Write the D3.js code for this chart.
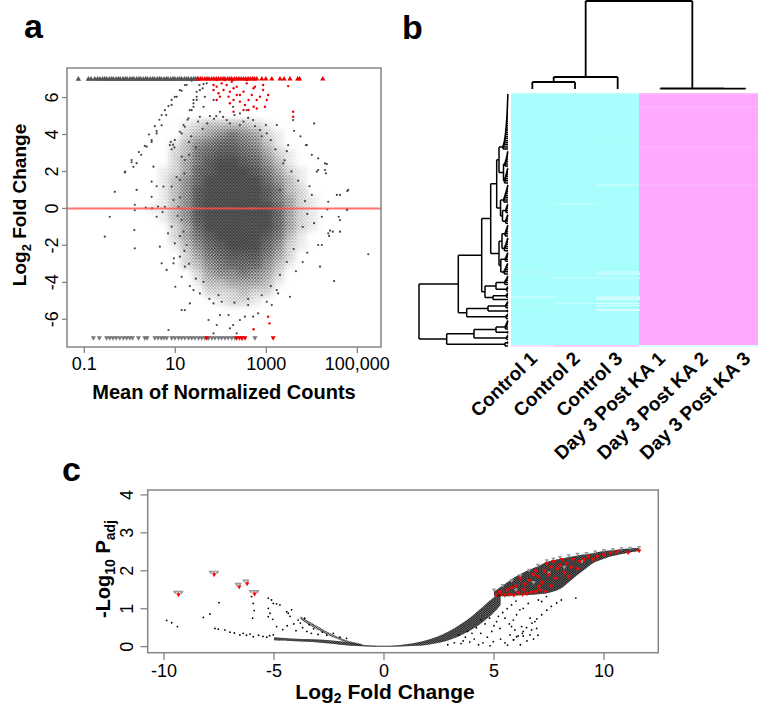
<!DOCTYPE html>
<html><head><meta charset="utf-8">
<script src="https://cdn.jsdelivr.net/npm/d3@7"></script>
<style>
html,body{margin:0;padding:0;background:#fff;}
svg{display:block;font-family:"Liberation Sans",Arial,Helvetica,sans-serif;}
</style></head><body>
<svg id="fig" width="758" height="706"></svg>
<script>
// ================= DATA =================
// ---- Panel a : MA plot ----
const maTickValuesX = [0.1, 10, 1000, 100000];
const maTickLabelsX = ["0.1", "10", "1000", "100,000"];
const maTickValuesY = [-6, -4, -2, 0, 2, 4, 6];
// density of the dense core (log10 mean on columns, log2FC on rows), 0..9
const maDensityLog = [0.5,0.75,1.0,1.25,1.5,1.75,2.0,2.25,2.5,2.75,3.0,3.25,3.5,3.75,4.0,4.25,4.5];
const maDensityFC  = [4.5,4.0,3.5,3.0,2.5,2.0,1.5,1.0,0.5,0.0,-0.5,-1.0,-1.5,-2.0,-2.5,-3.0,-3.5,-4.0,-4.5,-5.0];
const maDensity = [
 "00012333321000000",
 "00023456542100000",
 "00135677653100000",
 "00236788764210000",
 "00246899875310000",
 "01247899986421000",
 "01357999997531000",
 "01358999998632000",
 "01358999998642100",
 "11358999999742100",
 "01358999999742100",
 "00247999999742100",
 "00246899998631000",
 "00135789997521000",
 "00024678886420000",
 "00023567775310000",
 "00002455654200000",
 "00001334443100000",
 "00000222322000000",
 "00000012210000000"];
// sparse grey genes [log10 mean, log2FC]
const maGrey = [
 [-0.33,0.9],[-0.55,-1.53],[-0.44,-0.45],[-0.11,1.95],[0.04,2.5],[0.08,2.25],[0.15,2.45],[0.15,1.0],[0.11,0.2],[0.11,-0.1],[0.1,-1.17],[0.11,-2.16],
 [0.37,3.34],[0.48,3.6],[0.59,4.06],[0.48,1.45],[0.48,0.63],[0.49,0.0],[0.59,1.2],[0.62,0.1],[0.66,-2.07],[0.70,-2.97],[0.81,-3.33],[0.84,-1.35],
 [0.96,-2.97],[1.0,-4.24],[1.14,-5.5],[0.97,-2.7],[1.14,-3.7],[1.32,-5.14],[0.85,-6.58],[0.52,2.26],[0.74,1.18],[0.77,0.09],[0.59,-0.45],[0.35,0.05],
 [0.72,-0.2],[0.92,1.18],[1.10,1.54],[1.21,2.62],[1.14,2.8],[1.03,1.7],[0.96,0.45],[1.07,0.09],[1.14,-0.63],[0.92,-0.99],[1.18,-1.26],[0.99,-1.89],
 [-0.10,1.99],[0.04,2.62],[0.33,3.38],[0.48,3.7],[0.59,4.19],[0.70,4.5],[0.80,5.05],[0.92,5.6],[1.03,6.04],[1.14,6.37],[1.25,6.68],[1.36,6.91],
 [0.88,3.43],[0.99,3.7],[1.10,4.15],[1.18,4.51],[1.29,4.88],[1.36,5.32],[1.40,5.69],[1.47,6.04],[1.54,6.4],[1.62,6.73],
 [1.14,4.06],[1.21,4.42],[1.27,4.8],[1.32,5.32],[1.40,5.87],[1.47,6.31],[1.53,6.68],
 [0.70,5.05],[0.77,5.32],[0.85,5.54],[0.92,5.87],[0.99,6.04],[1.10,6.4],[1.21,6.68],[1.32,6.95],
 [0.92,3.2],[0.95,3.45],[0.9,3.6],[0.98,3.3],[0.25,2.9],[0.2,3.05],[0.42,4.0],[0.55,4.45],[0.65,4.8],
 [4.05,4.6],[3.61,4.2],[3.89,3.43],[3.48,3.43],[4.14,2.71],[4.33,2.40],[4.29,2.08],[4.14,2.08],[4.55,0.73],[4.62,0.73],[4.78,0.94],[4.36,0.36],
 [4.34,-0.05],[4.78,-0.05],[4.22,-0.45],[4.59,-0.45],[4.46,-1.26],[4.38,-1.49],[4.14,-1.98],[4.22,-1.98],[5.24,-2.48],[4.49,-3.93],[4.18,-3.15],
 [3.52,-4.78],[3.26,-4.6],[4.80,1.0],[4.77,-0.09],[4.62,-0.63],[4.62,-1.26],[4.40,-1.2],[4.36,-1.35],[3.87,3.43],[4.29,2.44],[4.31,1.9],[4.11,1.99],
 [4.0,0.73],[3.30,1.0],[3.59,4.78],[3.23,4.51],[3.37,2.44],[3.95,1.2],[4.05,-0.8],[3.9,-2.4],[3.8,-2.9],[3.65,-3.4],[4.0,2.9],[3.75,3.9],[3.45,3.1],
 [1.21,-5.5],[1.84,-5.14],[1.95,-4.69],[2.02,-5.05],[1.73,-6.04],[1.91,-6.31],[2.17,-5.77],[2.27,-6.31],[2.42,-6.04],[2.53,-5.86],[2.71,-5.86],
 [2.82,-5.68],[2.20,-6.49],[2.35,-6.76],[1.84,-6.76],[1.98,-5.77],[2.60,-5.23],[3.01,-5.05],[3.12,-5.23],[3.23,-4.42],[1.40,-4.42],[1.54,-4.6],
 [1.62,-3.97],[1.32,-4.2],[1.21,-3.15],[1.10,-2.61],[1.25,-1.98],
 [1.62,5.5],[1.84,5.87],[1.54,4.96],[1.76,5.0],[1.98,5.23],[2.27,5.5],[2.42,5.14],[2.57,5.32],[2.13,4.78],[2.42,4.51],[2.71,4.78],[2.86,4.24],
 [3.01,4.06],[2.99,4.51],[1.65,6.04],[1.69,6.77],[1.60,6.5],[1.47,5.87],[1.40,5.5],[1.9,5.0],[2.05,4.95],[2.6,4.9],[2.3,5.05],
 [1.5,4.7],[1.7,4.6],[1.85,4.85],[2.2,4.6],[2.5,4.7],[2.75,4.45],[1.6,4.3],[2.9,3.9],[3.1,3.7],[1.35,3.9],[1.3,3.6],[3.2,3.2],[3.4,2.6],[3.55,2.0],
 [3.7,1.5],[3.85,0.4],[3.9,-0.3],[3.8,-1.0],[3.6,-2.2],[3.45,-2.9],[3.3,-3.6],[3.1,-4.2],[2.9,-4.7],[2.6,-4.9],[2.3,-5.1],[1.75,-4.9],[1.45,-3.8],
 [1.3,-3.0],[1.2,-2.3],[1.1,-1.5],[1.05,-0.4],[1.1,0.6],[1.2,1.9],[1.3,2.9],[1.45,3.3]];
// significant genes (red) [log10 mean, log2FC]
const maRed = [
 [1.84,6.41],[1.91,6.59],[1.95,6.23],[2.02,6.77],[2.06,6.41],[2.13,6.68],[2.20,6.32],[2.24,6.86],[2.28,6.50],[2.35,6.59],[2.17,6.05],[2.28,5.87],
 [2.42,6.14],[2.50,6.32],[2.57,6.77],[2.68,6.14],[2.72,6.50],[2.79,5.87],[2.86,6.05],[2.93,6.41],[2.97,5.50],[3.01,5.87],[2.61,5.87],[2.53,5.60],
 [2.72,5.50],[2.79,5.41],[2.61,5.33],[2.50,5.33],[2.42,5.78],[2.35,6.14],[1.91,6.95],[2.09,6.95],[2.28,6.95],[2.57,6.95],[2.75,6.59],[2.93,6.68],
 [3.04,6.14],[3.48,6.62],[3.59,5.23],[3.59,4.96],[2.28,5.23],[2.20,5.69],[1.91,5.87],[1.84,6.68],[1.98,6.05],
 [3.04,-5.86],[3.07,-6.22],[2.72,-6.54]];
// genes beyond the y limits, drawn as triangles at +7 / -7 (log10 mean)
const maTopGrey = [-1.13,-0.91,-0.85,-0.77,-0.71,-0.66,-0.6,-0.55,-0.51,-0.45,-0.4,-0.36,-0.3,-0.25,-0.21,-0.15,-0.1,-0.06,0.0,0.05,0.09,0.15,0.2,
 0.24,0.3,0.35,0.39,0.45,0.5,0.54,0.6,0.65,0.69,0.75,0.8,0.84,0.9,0.95,0.99,1.05,1.1,1.14,1.2,1.25,1.29,1.35,1.4,1.44,1.48];
const maTopRed = [1.5,1.55,1.59,1.65,1.7,1.74,1.8,1.85,1.9,1.95,2.0,2.05,2.09,2.15,2.2,2.24,2.3,2.35,2.4,2.45,2.5,2.55,2.6,2.65,2.7,2.74,2.79,
 2.9,2.99,3.12,3.3,3.39,3.52,3.69,3.73,4.24];
const maBottomGrey = [-0.80,-0.67,-0.51,-0.44,-0.37,-0.30,-0.22,-0.14,-0.07,0.0,0.06,0.19,0.33,0.38,0.55,0.62,0.69,0.75,0.81,0.92,0.99,1.07,1.14,
 1.21,1.29,1.36,1.43,1.51,1.58,1.65,1.73,1.80,1.87,1.95,2.02,2.09,2.16,2.24,2.31,2.46,2.75];
const maBottomRed = [1.69,2.35,2.41,2.47,2.53,3.15];

// ---- Panel b : heatmap with dendrograms ----
const hmSamples = ["Control 1","Control 2","Control 3","Day 3 Post KA 1","Day 3 Post KA 2","Day 3 Post KA 3"];
const hmColumnBase = [-1,-1,-1,1,1,1];          // scaled expression (controls low, KA high)
// rows that deviate from the column base: [row, column, value]
const hmDeviations = [
 [0,0,-0.8],[0,1,-0.8],[0,2,-0.8],[0,3,0.8],[0,4,0.8],[0,5,0.8],
 [6,3,0.9],[6,4,0.9],[6,5,0.9],
 [22,0,-0.88],[22,1,-0.88],[22,2,-0.85],[22,3,0.9],[22,4,0.9],[22,5,0.9],
 [25,3,0.92],[25,4,0.92],[25,5,0.92],
 [43,2,-0.72],[43,3,0.9],[43,4,0.9],[43,5,0.9],
 [52,1,-0.78],[84,0,-0.85],[84,2,-0.75],[85,2,-0.7],[87,1,-0.75],[87,2,-0.8],
 [96,0,-0.75],[96,2,-0.65],[97,2,-0.5],[99,1,-0.7],[99,2,-0.45],[100,0,-0.8],[100,2,-0.4],[102,2,-0.5],
 [119,0,0.35],[119,1,0.6],[119,2,0.6],[119,3,-0.4],[119,4,-0.4],[119,5,-0.4]];
// column dendrogram: [height, left, right]; 0 = sample leaf
const hmColTree = [88, [12, [7, 0, 0], 0], [0.5, 0, [0.3, 0, 0]]];
// row dendrogram: [height, left, right]; 0 = gene leaf; {l:[...]} = chain of merge heights
const hmRowTree = [89,
  [49.7,
    [26.3,
      [17.3,
        [11.3,
          [9, {l:[0.15,0.2,0.3,0.35,0.45,0.5,0.6,0.7,0.8,0.9,1.0,1.1,1.25,1.4,1.55,1.7,1.9,2.1,2.3,2.5,2.8,3.1,3.4,3.8,4.3,5.0]},
              [4.5, {l:[0.3,0.6,0.9,1.3,1.8,2.4,3.0]}, {l:[0.4,0.8,1.2,1.7,2.2,2.8,3.5]}]],
          [7.5, {l:[0.3,0.7,1.1,1.6,2.2,2.9,3.5,4.2]}, [5.5, {l:[0.5,1.0,1.6,2.1]}, {l:[0.4,0.9,1.5,2.3]}]]],
        [9, [6, {l:[0.4,0.9,1.5,2.1,2.8]}, {l:[0.3,0.8,1.4,2.0,2.7,3.6]}], [7.2, {l:[0.5,1.1,1.8,2.6]}, {l:[0.6,1.3,2.0,2.9,3.8]}]]],
      [23, [12, {l:[0.5,1.2,2.0,3.1]}, {l:[0.6,1.4]}], [15, {l:[0.7,1.5]}, 0]]],
    [41.3, [20, {l:[0.5,1.2,2.2]}, {l:[0.6]}], {l:[0.8,1.9]}]],
  [61.3, [34, [12, {l:[0.5,1.1,1.8,2.6]}, {l:[0.4]}], {l:[0.6,1.5]}], [3, {l:[0.5]}, 0]]];

// ---- Panel c : volcano plot ----
const vTickValuesX = [-10,-5,0,5,10];
const vTickValuesY = [0,1,2,3,4];
// dense band of non-significant genes: log2FC, lower / upper -log10 Padj
const vBandX  = [-5,-4.5,-4,-3.5,-3,-2.5,-2,-1.5,-1,-0.5,0,0.5,1,1.5,2,2.5,3,3.5,4,4.5,5,5.3];
const vBandLo = [0.17,0.16,0.14,0.13,0.11,0.08,0.05,0.02,0.01,0,0,0,0.01,0.02,0.05,0.1,0.18,0.3,0.45,0.65,0.9,1.1];
const vBandHi = [0.25,0.23,0.21,0.2,0.19,0.17,0.14,0.1,0.05,0.03,0.02,0.03,0.06,0.11,0.18,0.28,0.42,0.6,0.8,1.05,1.3,1.42];
const vArmX  = [-3.8,-3.4,-3.0,-2.6,-2.2,-1.8,-1.4,-1.0];
const vArmLo = [0.72,0.57,0.44,0.32,0.22,0.13,0.07,0.03];
const vArmHi = [0.8,0.66,0.53,0.4,0.29,0.19,0.12,0.07];
const vCloudX  = [5.0,5.5,6.0,6.5,7.0,7.5,8.0,8.5,9.0,9.5,10.0,10.5,11.0,11.6];
const vCloudLo = [1.33,1.33,1.35,1.36,1.38,1.42,1.52,1.75,1.98,2.2,2.32,2.4,2.46,2.52];
const vCloudHi = [1.45,1.65,1.85,2.0,2.12,2.25,2.32,2.37,2.42,2.46,2.52,2.55,2.58,2.6];
// individual genes [log2FC, -log10 Padj]
const vBlack = [
 [-9.88,0.69],[-9.65,0.63],[-9.39,0.53],[-8.21,0.77],[-7.91,0.86],[-7.5,1.16],[-7.68,0.48],[-7.53,0.46],[-7.23,0.44],[-7.0,0.38],[-6.8,0.36],
 [-6.55,0.31],[-6.4,0.35],[-6.25,0.3],[-6.09,0.33],[-5.94,0.26],[-5.7,0.3],[-5.5,0.27],[-5.33,0.25],[-5.2,0.29],[-5.03,0.31],
 [-6.02,1.32],[-5.94,1.14],[-5.97,0.75],[-5.9,0.95],[-5.26,1.28],[-5.11,1.23],[-5.03,1.14],[-4.88,1.13],[-4.73,1.1],[-5.26,1.01],[-5.18,0.88],
 [-5.26,0.79],[-5.06,0.72],[-4.42,0.92],[-4.35,0.88],[-4.2,0.97],[-4.27,0.8],[-4.88,0.53],[-4.6,0.45],[-4.4,0.55],[-4.1,0.6],[-4.0,0.42],
 [-3.9,0.7],[-3.8,0.62],[-3.7,0.5],[-3.6,0.75],[-3.5,0.4],[-3.4,0.58],[-3.3,0.35],[-3.2,0.47],[-3.0,0.32],[-2.8,0.38],[-2.6,0.3],
 [5.62,0.04],[5.9,0.18],[6.1,0.28],[6.29,0.35],[6.48,0.5],[6.73,0.62],[6.95,0.73],[7.17,0.84],[7.4,0.96],[7.61,1.06],[7.85,1.15],[8.06,1.23],
 [8.72,1.28],[5.88,0.70],[5.8,0.53],[5.95,0.44],[5.73,0.31],[4.97,0.13],[4.82,0.02],[5.27,0.48],[5.12,0.66],[5.5,0.75],[6.18,0.97],[6.33,1.01],
 [6.56,1.14],[6.03,0.84],[6.26,0.53],[6.33,0.4],[6.64,0.31],[6.71,0.44],[6.94,0.48],[6.03,0.26],[5.88,0.18],[6.33,0.28],[6.64,0.75],[6.86,0.66],
 [7.02,1.23],[7.17,1.19],[7.39,1.32],[4.5,0.1],[4.7,0.25],[4.4,0.35],[4.9,0.4],[5.0,0.55],[5.3,0.2],[5.5,0.1],[4.3,0.05],[4.1,0.2],[3.9,0.12],
 [3.7,0.25],[3.5,0.08],[5.4,0.9],[5.6,1.0],[5.8,1.1],[6.0,1.2],[5.2,0.8],[5.7,0.6],[6.5,0.15],[6.8,0.2],[7.0,0.3],[6.2,0.05],
 [3.2,0.1],[3.4,0.3],[3.6,0.15],[4.0,0.35],[4.2,0.5],[4.6,0.6],[4.8,0.75],[3.8,0.4],[2.9,0.05],[4.4,0.7],[-2.3,0.35],[-2.0,0.25],[-1.7,0.22]];
const vRed = [[-9.34,1.37],[-7.72,1.9],[-6.58,1.58],[-6.22,1.66],[-5.88,1.39],
 [5.1,1.36],[5.3,1.4],[5.5,1.36],[5.7,1.38],[5.9,1.36],[6.1,1.42],[6.3,1.38],[6.5,1.4],[6.7,1.43],[6.9,1.45],[7.1,1.5],[5.6,1.5],[6.0,1.6],
 [6.4,1.65],[6.6,1.75],[6.8,1.9],[7.0,1.85],[7.2,1.7],[7.3,2.0],[7.5,1.9],[7.6,2.1],[7.8,1.8],[7.9,2.05],[8.0,2.15],[8.2,1.95],[8.3,2.2],
 [8.5,2.1],[8.6,2.3],[8.8,2.05],[8.9,2.25],[9.1,2.3],[9.3,2.38],[9.5,2.3],[9.7,2.38],[10.0,2.42],[10.3,2.47],[10.6,2.5],[11.1,2.48],[11.6,2.53],
 [6.2,1.8],[6.9,2.0],[7.4,2.2],[7.7,2.25],[8.1,2.3],[5.8,1.55],[6.35,1.5],[7.05,1.6],[7.6,1.6],[8.4,1.85],[5.25,1.45],[7.35,1.45]];
const vGreyTri = [[-9.5,1.44],[-9.35,1.44],[-9.2,1.44],[-7.88,1.97],[-7.73,1.97],[-7.58,1.97],[-6.7,1.65],[-6.55,1.65],[-6.35,1.74],[-6.2,1.74],
 [-6.05,1.46],[-5.9,1.46],[-5.75,1.46],[5.0,1.5],[5.4,1.62],[5.8,1.75],[6.2,1.88],[6.6,2.02],[7.0,2.15],[7.4,2.27],[7.7,2.32],[8.0,2.36],
 [8.4,2.4],[8.8,2.44],[9.2,2.46],[9.6,2.5],[10.0,2.54],[10.4,2.57],[10.8,2.59],[11.2,2.6],[11.6,2.62],[6.0,1.5],[6.8,1.7],[7.5,1.95],[8.2,2.1],[9.0,2.25]];

// ================= DRAWING =================
const svg = d3.select("#fig");
const defs = svg.append("defs");
defs.append("filter").attr("id","blurA").attr("x","-20%").attr("y","-20%").attr("width","140%").attr("height","140%")
  .append("feGaussianBlur").attr("stdDeviation",3);
defs.append("filter").attr("id","blurA2").attr("x","-20%").attr("y","-20%").attr("width","140%").attr("height","140%")
  .append("feGaussianBlur").attr("stdDeviation",2.4);
// speckle textures (rendering style only)
const spA = defs.append("pattern").attr("id","speckA").attr("patternUnits","userSpaceOnUse").attr("width",3.1).attr("height",3.3);
spA.append("circle").attr("cx",1).attr("cy",1).attr("r",1.05).attr("fill","#3a3a3a");
spA.append("circle").attr("cx",2.6).attr("cy",2.6).attr("r",0.85).attr("fill","#3a3a3a");
const spC = defs.append("pattern").attr("id","speckC").attr("patternUnits","userSpaceOnUse").attr("width",2.6).attr("height",2.3);
spC.append("circle").attr("cx",0.8).attr("cy",0.8).attr("r",0.75).attr("fill","#000");
spC.append("circle").attr("cx",2.1).attr("cy",1.9).attr("r",0.6).attr("fill","#000");
const BOX = "#858585";
const triUp = d3.symbol().type(d3.symbolTriangle);

function panelLabel(t, x, y){
  svg.append("text").attr("x",x).attr("y",y).attr("font-size",34).attr("font-weight","bold").text(t);
}
panelLabel("a", 24, 38); panelLabel("b", 402, 39); panelLabel("c", 62, 481);

// ---------- Panel a ----------
const ax = d3.scaleLog().domain([Math.pow(10,-1.38), Math.pow(10,5.52)]).range([67,381]);
const ay = d3.scaleLinear().domain([-7.5,7.6]).range([347,68]);
defs.append("clipPath").attr("id","clipA").append("rect").attr("x",67).attr("y",68).attr("width",314).attr("height",279);
// density cells -> blurred mask for the speckle texture, plus a blurred dark underlay
const maskA = defs.append("mask").attr("id","maskA").attr("maskUnits","userSpaceOnUse")
  .attr("x",0).attr("y",0).attr("width",758).attr("height",706);
const maskG = maskA.append("g").attr("filter","url(#blurA)");
const gA = svg.append("g").attr("clip-path","url(#clipA)");
const gDen = gA.append("g").attr("filter","url(#blurA2)");
maDensity.forEach((row, ri) => {
  const fc = maDensityFC[ri];
  row.split("").forEach((ch, ci) => {
    const d = +ch; if (!d) return;
    const lx = maDensityLog[ci];
    const x0 = ax(Math.pow(10, lx - 0.125)), x1 = ax(Math.pow(10, lx + 0.125));
    const y0 = ay(fc+0.25), y1 = ay(fc-0.25);
    maskG.append("rect").attr("x",x0).attr("width",x1-x0+0.3).attr("y",y0).attr("height",y1-y0+0.3)
      .attr("fill","#fff").attr("fill-opacity", Math.min(1, d/6.5));
    gDen.append("rect").attr("x",x0).attr("width",x1-x0+0.3).attr("y",y0).attr("height",y1-y0+0.3)
      .attr("fill","#404040").attr("fill-opacity", Math.pow(d/9,1.8)*0.8);
  });
});
gA.append("rect").attr("x",67).attr("y",68).attr("width",314).attr("height",279)
  .attr("fill","url(#speckA)").attr("mask","url(#maskA)");
gA.append("g").selectAll("circle").data(maGrey).join("circle")
  .attr("cx",d=>ax(Math.pow(10,d[0]))).attr("cy",d=>ay(d[1])).attr("r",1.1).attr("fill","#444");
gA.append("g").selectAll("path").data(maTopGrey).join("path")
  .attr("d",triUp.size(13)).attr("transform",d=>`translate(${ax(Math.pow(10,d))},${ay(7)})`).attr("fill","#555");
gA.append("g").selectAll("path").data(maBottomGrey).join("path")
  .attr("d",triUp.size(11)).attr("transform",d=>`translate(${ax(Math.pow(10,d))},${ay(-7)}) rotate(180)`).attr("fill","#777");
gA.append("g").selectAll("path").data(maTopRed).join("path")
  .attr("d",triUp.size(12)).attr("transform",d=>`translate(${ax(Math.pow(10,d))},${ay(7)})`).attr("fill","#e00");
gA.append("g").selectAll("path").data(maBottomRed).join("path")
  .attr("d",triUp.size(11)).attr("transform",d=>`translate(${ax(Math.pow(10,d))},${ay(-7)}) rotate(180)`).attr("fill","#e00");
gA.append("g").selectAll("circle").data(maRed).join("circle")
  .attr("cx",d=>ax(Math.pow(10,d[0]))).attr("cy",d=>ay(d[1])).attr("r",1.2).attr("fill","#e00");
gA.append("line").attr("x1",67).attr("x2",381).attr("y1",ay(0)).attr("y2",ay(0))
  .attr("stroke","#ff5050").attr("stroke-opacity",0.8).attr("stroke-width",2);
svg.append("rect").attr("x",67).attr("y",68).attr("width",314).attr("height",279)
  .attr("fill","none").attr("stroke",BOX).attr("stroke-width",1.5);
// axes a
maTickValuesX.forEach((v,i)=>{
  svg.append("line").attr("x1",ax(v)).attr("x2",ax(v)).attr("y1",347).attr("y2",353).attr("stroke",BOX).attr("stroke-width",1.3);
  svg.append("text").attr("x",ax(v)).attr("y",370).attr("text-anchor","middle").attr("font-size",18).text(maTickLabelsX[i]);
});
maTickValuesY.forEach(v=>{
  svg.append("line").attr("x1",62).attr("x2",67).attr("y1",ay(v)).attr("y2",ay(v)).attr("stroke",BOX).attr("stroke-width",1.3);
  svg.append("text").attr("transform",`translate(58,${ay(v)}) rotate(-90)`).attr("text-anchor","middle").attr("font-size",18).text(v);
});
svg.append("text").attr("x",224).attr("y",399).attr("text-anchor","middle").attr("font-size",20).attr("font-weight","bold")
  .text("Mean of Normalized Counts");
{
  const t = svg.append("text").attr("transform","translate(26,205) rotate(-90)").attr("text-anchor","middle")
    .attr("font-size",19).attr("font-weight","bold");
  t.append("tspan").text("Log");
  t.append("tspan").attr("font-size",13).attr("dy",5).text("2");
  t.append("tspan").attr("dy",-5).text(" Fold Change");
}

// ---------- Panel b ----------
function buildTree(spec){
  if (spec === 0) return {h:0, leaf:true};
  if (!Array.isArray(spec)) {
    let cur = {h:0, leaf:true};
    spec.l.forEach(h => { cur = {h:h, children:[cur, {h:0, leaf:true}]}; });
    return cur;
  }
  return {h:spec[0], children:[buildTree(spec[1]), buildTree(spec[2])]};
}
function indexLeaves(node, c){ if (node.leaf){ node.idx = c.i++; return; } node.children.forEach(ch=>indexLeaves(ch,c)); }
function place(node, posOf){
  if (node.leaf) return node.pos = posOf(node.idx);
  const p = node.children.map(ch=>place(ch,posOf));
  return node.pos = (p[0]+p[1])/2;
}
function segs(node, out){
  if (node.leaf) return;
  out.push({v:true, h:node.h, a:node.children[0].pos, b:node.children[1].pos});
  node.children.forEach(ch=>{ out.push({v:false, h0:node.h, h1:ch.h, p:ch.pos}); segs(ch,out); });
}
const rowRoot = buildTree(hmRowTree); const rc = {i:0}; indexLeaves(rowRoot, rc);
const nRows = rc.i;
const rowBand = d3.scaleBand().domain(d3.range(nRows)).range([93,347]);
const colBand = d3.scaleBand().domain(hmSamples).range([511,767]);
const hmColor = d3.scaleLinear().domain([-1,0,1]).range(["#a8fdfd","#ffffff","#fea8fe"]);
const gB = svg.append("g").attr("shape-rendering","crispEdges");
hmSamples.forEach((s,c)=>{
  gB.append("rect").attr("x",colBand(s)).attr("width",colBand.bandwidth()+0.5).attr("y",93).attr("height",254)
    .attr("fill",hmColor(hmColumnBase[c]));
});
hmDeviations.forEach(([r,c,v])=>{
  gB.append("rect").attr("x",colBand(hmSamples[c])).attr("width",colBand.bandwidth()+0.5)
    .attr("y",rowBand(r)).attr("height",Math.max(1.5,rowBand.bandwidth()-0.3)).attr("fill",hmColor(v));
});
place(rowRoot, i=>rowBand(i)+rowBand.bandwidth()/2);
const rx = d3.scaleLinear().domain([0,89]).range([508,419]);
const rs = []; segs(rowRoot, rs);
const rowPath = d3.path();
rs.forEach(s=>{ if (s.v){ rowPath.moveTo(rx(s.h),s.a); rowPath.lineTo(rx(s.h),s.b);} else { rowPath.moveTo(rx(s.h0),s.p); rowPath.lineTo(rx(s.h1),s.p);} });
svg.append("path").attr("d",rowPath.toString()).attr("fill","none").attr("stroke","#000").attr("stroke-width",1.5);
const colRoot = buildTree(hmColTree); indexLeaves(colRoot,{i:0});
place(colRoot, i=>colBand(hmSamples[i])+colBand.bandwidth()/2);
const cy = d3.scaleLinear().domain([0,88]).range([89,1]);
const cs = []; segs(colRoot, cs);
const colPath = d3.path();
cs.forEach(s=>{ if (s.v){ colPath.moveTo(s.a,cy(s.h)); colPath.lineTo(s.b,cy(s.h)); } else { colPath.moveTo(s.p,cy(s.h0)); colPath.lineTo(s.p,cy(s.h1)); } });
svg.append("path").attr("d",colPath.toString()).attr("fill","none").attr("stroke","#000").attr("stroke-width",1.8);
hmSamples.forEach(s=>{
  const x = colBand(s)+colBand.bandwidth()/2;
  svg.append("text").attr("transform",`translate(${x+6},360) rotate(-44)`).attr("text-anchor","end")
    .attr("font-size",19).attr("font-weight","bold").text(s);
});

// ---------- Panel c ----------
const vx = d3.scaleLinear().domain([-10.74,12.47]).range([147.7,658.3]);
const vy = d3.scaleLinear().domain([-0.16,4.13]).range([652.7,490]);
defs.append("clipPath").attr("id","clipC").append("rect").attr("x",147.7).attr("y",490).attr("width",510.6).attr("height",162.7);
const gC = svg.append("g").attr("clip-path","url(#clipC)");
const area = (X,L,H)=>d3.area().x((d,i)=>vx(X[i])).y0((d,i)=>vy(L[i])).y1((d,i)=>vy(H[i])).curve(d3.curveMonotoneX)(X);
[[vBandX,vBandLo,vBandHi,0.5],[vArmX,vArmLo,vArmHi,0.2],[vCloudX,vCloudLo,vCloudHi,0.55]].forEach(([X,L,H,o])=>{
  const dStr = area(X,L,H);
  gC.append("path").attr("d",dStr).attr("fill","#000").attr("fill-opacity",o);
  gC.append("path").attr("d",dStr).attr("fill","url(#speckC)");
});
gC.append("g").selectAll("circle").data(vBlack).join("circle")
  .attr("cx",d=>vx(d[0])).attr("cy",d=>vy(d[1])).attr("r",0.9).attr("fill","#000");
gC.append("g").selectAll("path").data(vGreyTri).join("path")
  .attr("d",triUp.size(8)).attr("transform",d=>`translate(${vx(d[0])},${vy(d[1])}) rotate(180)`).attr("fill","#9a9a9a");
gC.append("g").selectAll("path").data(vRed).join("path")
  .attr("d",triUp.size(9)).attr("transform",d=>`translate(${vx(d[0])},${vy(d[1])}) rotate(180)`).attr("fill","#f00");
svg.append("rect").attr("x",147.7).attr("y",490).attr("width",510.6).attr("height",162.7)
  .attr("fill","none").attr("stroke",BOX).attr("stroke-width",1.5);
vTickValuesX.forEach(v=>{
  svg.append("line").attr("x1",vx(v)).attr("x2",vx(v)).attr("y1",652.7).attr("y2",660).attr("stroke",BOX).attr("stroke-width",1.3);
  svg.append("text").attr("x",vx(v)).attr("y",677).attr("text-anchor","middle").attr("font-size",18).text(v);
});
vTickValuesY.forEach(v=>{
  svg.append("line").attr("x1",140.5).attr("x2",147.7).attr("y1",vy(v)).attr("y2",vy(v)).attr("stroke",BOX).attr("stroke-width",1.3);
  svg.append("text").attr("transform",`translate(133,${vy(v)}) rotate(-90)`).attr("text-anchor","middle").attr("font-size",18).text(v);
});
{
  const t = svg.append("text").attr("x",385).attr("y",699).attr("text-anchor","middle").attr("font-size",21).attr("font-weight","bold");
  t.append("tspan").text("Log");
  t.append("tspan").attr("font-size",14).attr("dy",4).text("2");
  t.append("tspan").attr("dy",-4).text(" Fold Change");
  const u = svg.append("text").attr("transform","translate(110,569) rotate(-90)").attr("text-anchor","middle")
    .attr("font-size",20).attr("font-weight","bold");
  u.append("tspan").text("-Log");
  u.append("tspan").attr("font-size",14).attr("dy",5).text("10");
  u.append("tspan").attr("dy",-5).text(" P");
  u.append("tspan").attr("font-size",14).attr("dy",5).text("adj");
}
</script>
</body></html>
